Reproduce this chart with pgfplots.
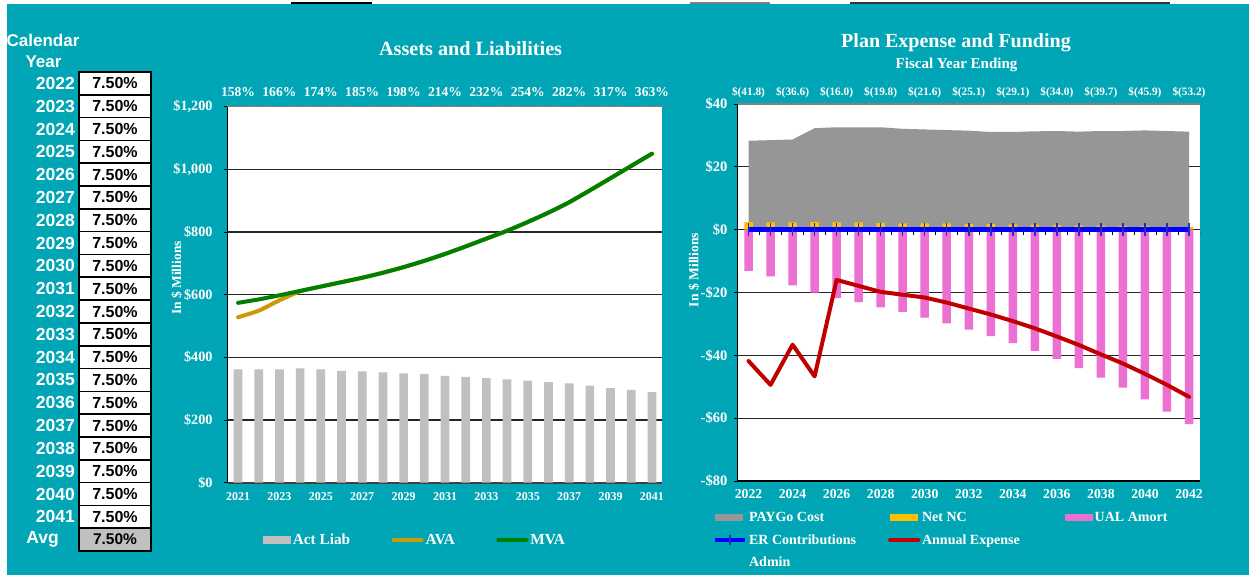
\documentclass[border=0pt]{standalone}
\usepackage{fontspec}
\setmainfont{Liberation Serif}
\newfontfamily\arialf{Liberation Sans}
\usepackage{pgfplots}
\usepackage{pgfplotstable}
\pgfplotsset{compat=1.18}
\definecolor{bg}{HTML}{00A6B5}
\definecolor{liab}{HTML}{C0C0C0}
\definecolor{avacol}{HTML}{CC9A06}
\definecolor{mvacol}{HTML}{008000}
\definecolor{paygo}{HTML}{969696}
\definecolor{netnc}{HTML}{FFC000}
\definecolor{ual}{HTML}{EC70D2}
\definecolor{ercol}{HTML}{0000FF}
\definecolor{ermark}{HTML}{2828C8}
\definecolor{expcol}{HTML}{C00000}
\newcommand\fs[1]{\fontsize{#1}{#1}\selectfont\bfseries}

\pgfplotstableread{
i liab ava mva
0 362 528 574
1 362 549 585
2 362 582 598
3 365 611 612
4 362 626 626
5 357 640 640
6 355 654 654
7 352 670 670
8 349 688 688
9 347 708 708
10 341 730 730
11 338 754 754
12 334 779 779
13 330 804 804
14 326 832 832
15 321 862 862
16 317 895 895
17 310 933 933
18 302 972 972
19 296 1011 1011
20 289 1050 1050
}\leftdata

\pgfplotstableread{
i paygo netnc ual er exp
0 28.3 2.4 -13.1 0 -41.8
1 28.5 2.3 -14.9 0 -49.4
2 28.7 2.3 -17.7 0 -36.6
3 32.3 2.4 -20.0 0 -46.7
4 32.6 2.3 -21.8 0 -16.0
5 32.6 2.3 -23.1 0 -17.9
6 32.6 2.1 -24.7 0 -19.8
7 32.1 2.0 -26.2 0 -20.7
8 31.9 2.0 -28.0 0 -21.6
9 31.7 2.0 -29.8 0 -23.2
10 31.5 1.8 -31.8 0 -25.1
11 31.1 1.8 -33.9 0 -27.0
12 31.1 1.7 -36.1 0 -29.1
13 31.3 1.6 -38.6 0 -31.4
14 31.4 1.5 -41.1 0 -34.0
15 31.2 1.4 -44.1 0 -36.7
16 31.4 1.3 -47.1 0 -39.7
17 31.4 1.2 -50.3 0 -42.6
18 31.6 1.1 -54.0 0 -45.9
19 31.4 1.0 -57.9 0 -49.4
20 31.2 0.8 -61.9 0 -53.2
}\rightdata

\begin{document}
\begin{tikzpicture}
\useasboundingbox (0,0) rectangle (1249bp,575bp);
\fill[white] (0,0) rectangle (1249bp,575bp);
\fill[bg] (7bp,0) rectangle (1249bp,571bp);
\draw[black,line width=1.5bp] (291bp,572bp) -- (372bp,572bp);
\draw[gray,line width=1.5bp] (690bp,572bp) -- (770bp,572bp);
\draw[black!80,line width=1.5bp] (850bp,572bp) -- (1170bp,572bp);

% ---- left table ----
\node[text=white,font=\arialf\fontsize{17bp}{17bp}\selectfont\bfseries] at (43bp,535bp) {Calendar};
\node[text=white,font=\arialf\fontsize{17bp}{17bp}\selectfont\bfseries] at (43.5bp,513bp) {Year};
\foreach \k [count=\j from 0] in {2022,...,2041} {
  \pgfmathsetmacro\ytop{575-72-22.81*\j}
  \pgfmathsetmacro\ybot{\ytop-22.81}
  \pgfmathsetmacro\ymid{\ytop-11.4}
  \draw[line width=1.6bp, fill=white] (79bp,\ytop bp) rectangle (151bp,\ybot bp);
  \node[anchor=east,inner sep=0pt,text=white,font=\arialf\fontsize{17.5bp}{17.5bp}\selectfont\bfseries] at (75bp,\ymid bp) {\k};
  \node[inner sep=0pt,text=black,font=\arialf\fontsize{16bp}{16bp}\selectfont\bfseries] at (115bp,\ymid bp) {7.50\%};
}
\pgfmathsetmacro\ytop{575-72-22.81*20}
\pgfmathsetmacro\ybot{\ytop-22.81}
\pgfmathsetmacro\ymid{\ytop-11.4}
\draw[line width=1.6bp, fill=liab] (79bp,\ytop bp) rectangle (151bp,\ybot bp);
\node[inner sep=0pt,text=white,font=\arialf\fontsize{17.5bp}{17.5bp}\selectfont\bfseries] at (42.5bp,\ymid bp) {Avg};
\node[inner sep=0pt,text=black,font=\arialf\fontsize{15.5bp}{15.5bp}\selectfont\bfseries] at (115bp,\ymid bp) {7.50\%};

% ---- titles ----
\node[text=white,font=\fs{20.2bp}] at (470.6bp,526bp) {Assets and Liabilities};
\node[text=white,font=\fs{20bp}] at (956bp,532.3bp) {Plan Expense and Funding};
\node[text=white,font=\fs{15bp}] at (956.5bp,510bp) {Fiscal Year Ending};
\node[text=white,font=\fs{13.5bp},rotate=90] at (176.7bp,297bp) {In \$ Millions};
\node[text=white,font=\fs{13.6bp},rotate=90] at (694bp,305bp) {In \$ Millions};

% ---- left chart ----
\begin{axis}[
  at={(227.7bp,92.3bp)}, anchor=south west, scale only axis,
  width=434.6bp, height=376bp,
  xmin=-0.5, xmax=20.5, ymin=0, ymax=1200,
  axis background/.style={fill=white},
  axis x line*=bottom, axis y line*=left,
  x axis line style={draw=black!75, line width=2bp},
  y axis line style={draw=black, line width=1.5bp},
  ytick={0,200,...,1200},
  yticklabels={{\$0},{\$200},{\$400},{\$600},{\$800},{\$1,000},{\$1,200}},
  ymajorgrids, major grid style={black!85, line width=1.2bp},
  tick align=outside, major tick length=4bp,
  ytick style={black, line width=1bp},
  xtick={0,2,...,20},
  xticklabels={2021,2023,2025,2027,2029,2031,2033,2035,2037,2039,2041},
  xtick style={draw=none},
  yticklabel style={font=\fs{14.2bp}, text=white, inner sep=0pt},
  xticklabel style={font=\fs{12bp}, text=white, inner sep=0pt},
  yticklabel shift=11bp, xticklabel shift=6bp,
  /pgf/number format/assume math mode=true,
  legend style={at={(0.4307,-0.1524)}, anchor=center, draw=none, fill=none, text=white,
    font=\fs{15.3bp}, legend columns=3,
    /tikz/every even column/.append style={column sep=39.5bp}},
  legend cell align=left,
]
\addplot[ybar, bar width=8.7bp, bar shift=0pt, fill=liab, draw=none,
  legend image code/.code={\fill[liab] (0bp,-3.6bp) rectangle (28bp,3.6bp);}]
  table[x=i,y=liab] {\leftdata};
\addlegendentry{Act Liab}
\addplot[avacol, line width=4bp, smooth, tension=0.3, line cap=round,
  legend image code/.code={\draw[avacol,line width=4bp,line cap=round] (0bp,0bp) -- (28bp,0bp);}]
  table[x=i,y=ava] {\leftdata};
\addlegendentry{AVA}
\addplot[mvacol, line width=4bp, smooth, tension=0.3, line cap=round,
  legend image code/.code={\draw[mvacol,line width=4bp,line cap=round] (0bp,0bp) -- (28bp,0bp);}]
  table[x=i,y=mva] {\leftdata};
\addlegendentry{MVA}
\end{axis}

\begin{axis}[
  at={(227.7bp,92.3bp)}, anchor=south west, scale only axis,
  width=434.6bp, height=376bp,
  xmin=-0.5, xmax=20.5, ymin=0, ymax=1,
  axis x line*=top, axis y line=none,
  x axis line style={draw=gray, line width=1.5bp},
  xtick={0,2,...,20},
  xticklabels={158\%,166\%,174\%,185\%,198\%,214\%,232\%,254\%,282\%,317\%,363\%},
  xtick style={draw=none},
  minor xtick={-0.5,0.5,...,20.5},
  minor x tick style={draw=gray, line width=0.8bp}, minor tick length=3bp, tick align=outside,
  xticklabel style={font=\fs{13.6bp}, text=white, inner sep=0pt, anchor=base},
  xticklabel shift=6bp,
]
\end{axis}

% ---- right chart ----
\begin{axis}[
  at={(737.5bp,94bp)}, anchor=south west, scale only axis,
  width=462.5bp, height=377bp,
  xmin=-0.5, xmax=20.5, ymin=-80, ymax=40,
  axis background/.style={fill=white},
  axis x line*=bottom, axis y line*=left,
  x axis line style={draw=black, line width=1.5bp},
  y axis line style={draw=black, line width=1.5bp},
  ytick={-80,-60,...,40},
  yticklabels={{-\$80},{-\$60},{-\$40},{-\$20},{\$0},{\$20},{\$40}},
  ymajorgrids, major grid style={black!85, line width=1bp},
  tick align=outside, major tick length=4bp,
  ytick style={black, line width=1bp},
  xtick={0,2,...,20},
  xticklabels={2022,2024,2026,2028,2030,2032,2034,2036,2038,2040,2042},
  xtick style={draw=none},
  yticklabel style={font=\fs{14.5bp}, text=white, inner sep=0pt},
  xticklabel style={font=\fs{13.7bp}, text=white, inner sep=0pt},
  yticklabel shift=6bp, xticklabel shift=4bp,
  /pgf/number format/assume math mode=true,
  legend style={at={(0.4406,-0.157)}, anchor=center, draw=none, fill=none, text=white,
    font=\fs{14bp}, legend columns=3, row sep=7bp,
    /tikz/column 2/.style={column sep=30bp},
    /tikz/column 4/.style={column sep=43bp}},
  legend cell align=left,
]
\addplot[fill=paygo, draw=none,
  legend image code/.code={\fill[paygo] (0bp,-3.5bp) rectangle (28bp,3.5bp);}]
  table[x=i,y=paygo] {\rightdata} \closedcycle;
\addlegendentry{PAYGo Cost}
\addplot[ybar, bar width=8.5bp, bar shift=0pt, fill=netnc, draw=none,
  legend image code/.code={\fill[netnc] (0bp,-3.5bp) rectangle (28bp,3.5bp);}]
  table[x=i,y=netnc] {\rightdata};
\addlegendentry{Net NC}
\addplot[ybar, bar width=8.5bp, bar shift=0pt, fill=ual, draw=none,
  legend image code/.code={\fill[ual] (0bp,-3.5bp) rectangle (28bp,3.5bp);}]
  table[x=i,y=ual] {\rightdata};
\addlegendentry{UAL Amort}
\addplot[ercol, line width=4.5bp, mark=|, mark size=6.5bp,
  mark options={draw=ermark, line width=1.5bp},
  legend image code/.code={\draw[ercol,line width=4bp] (0bp,0bp) -- (30bp,0bp);
     \draw[ermark,line width=1.5bp] (15bp,-5bp) -- (15bp,5bp);}]
  table[x=i,y=er] {\rightdata};
\addlegendentry{ER Contributions}
\addplot[expcol, line width=4bp, line join=round, line cap=round,
  legend image code/.code={\draw[expcol,line width=4bp,line cap=round] (0bp,0bp) -- (28bp,0bp);}]
  table[x=i,y=exp] {\rightdata};
\addlegendentry{Annual Expense}
\addlegendimage{legend image code/.code={}}
\addlegendentry{}
\addlegendimage{legend image code/.code={}}
\addlegendentry{Admin}
\pgfplotsinvokeforeach{-0.5,0.5,...,20.5}{
  \draw[black, line width=0.8bp] (axis cs:#1,0) ++(0bp,-2.3bp) -- ++(0bp,-3bp);
}
\end{axis}

\begin{axis}[
  at={(737.5bp,94bp)}, anchor=south west, scale only axis,
  width=462.5bp, height=377bp,
  xmin=-0.5, xmax=20.5, ymin=0, ymax=1,
  axis x line*=top, axis y line=none,
  x axis line style={draw=gray, line width=1.5bp},
  xtick={0,2,...,20},
  xticklabels={\$(41.8),\$(36.6),\$(16.0),\$(19.8),\$(21.6),\$(25.1),\$(29.1),\$(34.0),\$(39.7),\$(45.9),\$(53.2)},
  xtick style={draw=none},
  minor xtick={-0.5,1.5,...,19.5},
  minor x tick style={draw=gray, line width=0.8bp}, minor tick length=3bp, tick align=outside,
  xticklabel style={font=\fs{11.3bp}, text=white, inner sep=0pt, anchor=base},
  xticklabel shift=4bp,
]
\end{axis}
\end{tikzpicture}
\end{document}
